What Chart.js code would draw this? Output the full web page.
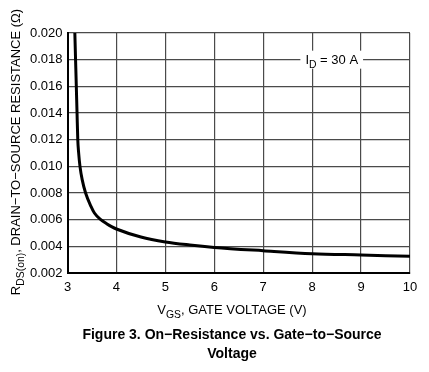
<!DOCTYPE html>
<html>
<head>
<meta charset="utf-8">
<script src="https://cdn.jsdelivr.net/npm/chart.js@4"></script>
<style>
  html, body { margin: 0; padding: 0; background: #fff; }
  #wrap { width: 429px; height: 372px; position: relative; }
</style>
</head>
<body>
<div id="wrap"><canvas id="chart" width="429" height="372"></canvas></div>
<script>
// Gate voltage (V) vs on-resistance (ohm)
const vgs = [3.15, 3.165, 3.18, 3.195, 3.21, 3.228, 3.255, 3.30, 3.37, 3.48, 3.55, 3.68, 3.8, 3.9, 4.0, 4.5, 5.0, 5.5, 6.0, 7.0, 8.0, 9.0, 10.0];
const rdsOn = [0.0200, 0.0180, 0.0160, 0.0140, 0.0120, 0.0110, 0.0100, 0.0090, 0.0080, 0.0070, 0.0065, 0.0060, 0.0057, 0.00548, 0.0053, 0.0047, 0.00433, 0.0041, 0.00392, 0.00367, 0.00345, 0.00335, 0.00325];

const xTicks = [3, 4, 5, 6, 7, 8, 9, 10];
const yTicks = [0.002, 0.004, 0.006, 0.008, 0.010, 0.012, 0.014, 0.016, 0.018, 0.020];

const FONT = "'Liberation Sans', Arial, sans-serif";

// draws text parts left to right, shifting subscript parts down
function drawSubText(ctx, x, y, parts, size) {
  let cx = x;
  parts.forEach(p => {
    const s = p.sub ? size * 0.8 : size;
    ctx.font = s + 'px ' + FONT;
    ctx.fillText(p.t, cx, y + (p.sub ? size * 0.3 : 0));
    cx += ctx.measureText(p.t).width;
  });
  return cx - x;
}
function measureSub(ctx, parts, size) {
  let w = 0;
  parts.forEach(p => {
    ctx.font = (p.sub ? size * 0.8 : size) + 'px ' + FONT;
    w += ctx.measureText(p.t).width;
  });
  return w;
}

const labels = {
  id: 'labels',
  afterDraw(chart) {
    const ctx = chart.ctx;
    const area = chart.chartArea;
    ctx.save();
    ctx.fillStyle = '#000';
    ctx.textBaseline = 'alphabetic';
    ctx.textAlign = 'left';

    // ID = 30 A, sitting on the 0.018 grid line
    const idParts = [{ t: 'I' }, { t: 'D', sub: true }, { t: ' = 30 A' }];
    const xs = chart.scales.x, ys = chart.scales.y;
    const idW = measureSub(ctx, idParts, 13);
    const idX = xs.getPixelForValue(8.4) - idW / 2;
    const idY = ys.getPixelForValue(0.018);
    ctx.fillStyle = '#fff';
    ctx.fillRect(idX - 5, idY - 9, idW + 10, 18);
    ctx.fillStyle = '#000';
    drawSubText(ctx, idX, idY + 4.5, idParts, 13);

    // x axis title
    const xParts = [{ t: 'V' }, { t: 'GS', sub: true }, { t: ', GATE VOLTAGE (V)' }];
    const xw = measureSub(ctx, xParts, 13);
    drawSubText(ctx, 232 - xw / 2, 314, xParts, 13);

    // y axis title (rotated)
    const yParts = [{ t: 'R' }, { t: 'DS(on)', sub: true }, { t: ', DRAIN\u2212TO\u2212SOURCE RESISTANCE (\u03A9)' }];
    const yw = measureSub(ctx, yParts, 13);
    ctx.translate(20, (area.top + area.bottom) / 2 - 1);
    ctx.rotate(-Math.PI / 2);
    drawSubText(ctx, -yw / 2, 0, yParts, 13);
    ctx.setTransform(1, 0, 0, 1, 0, 0);

    // caption
    ctx.font = 'bold 14px ' + FONT;
    ctx.textAlign = 'center';
    ctx.fillText('Figure 3. On\u2212Resistance vs. Gate\u2212to\u2212Source', 232, 339);
    ctx.fillText('Voltage', 232, 358);
    ctx.restore();
  }
};

new Chart(document.getElementById('chart'), {
  type: 'line',
  data: {
    datasets: [{
      data: vgs.map((v, i) => ({ x: v, y: rdsOn[i] })),
      borderColor: '#000',
      borderWidth: 3,
      pointRadius: 0,
      cubicInterpolationMode: 'monotone',
      fill: false
    }]
  },
  plugins: [labels],
  options: {
    responsive: false,
    animation: false,
    layout: { padding: { left: 0, top: 33, right: 19, bottom: 0 } },
    plugins: { legend: { display: false }, tooltip: { enabled: false } },
    scales: {
      x: {
        type: 'linear',
        min: 3, max: 10,
        afterBuildTicks: s => { s.ticks = xTicks.map(v => ({ value: v })); },
        afterFit: s => { s.height = 99; },
        grid: { color: '#4a4a4a', lineWidth: 1.2, drawTicks: false },
        border: { color: '#000', width: 2 },
        ticks: { color: '#000', padding: 7, font: { family: FONT, size: 13 }, callback: v => String(v) }
      },
      y: {
        type: 'linear',
        min: 0.002, max: 0.020,
        afterBuildTicks: s => { s.ticks = yTicks.map(v => ({ value: v })); },
        afterFit: s => { s.width = 67.5; },
        grid: { color: '#4a4a4a', lineWidth: 1.2, drawTicks: false },
        border: { color: '#000', width: 2 },
        ticks: { color: '#000', padding: 5, font: { family: FONT, size: 13 }, callback: v => v.toFixed(3) }
      }
    }
  }
});
</script>
</body>
</html>
